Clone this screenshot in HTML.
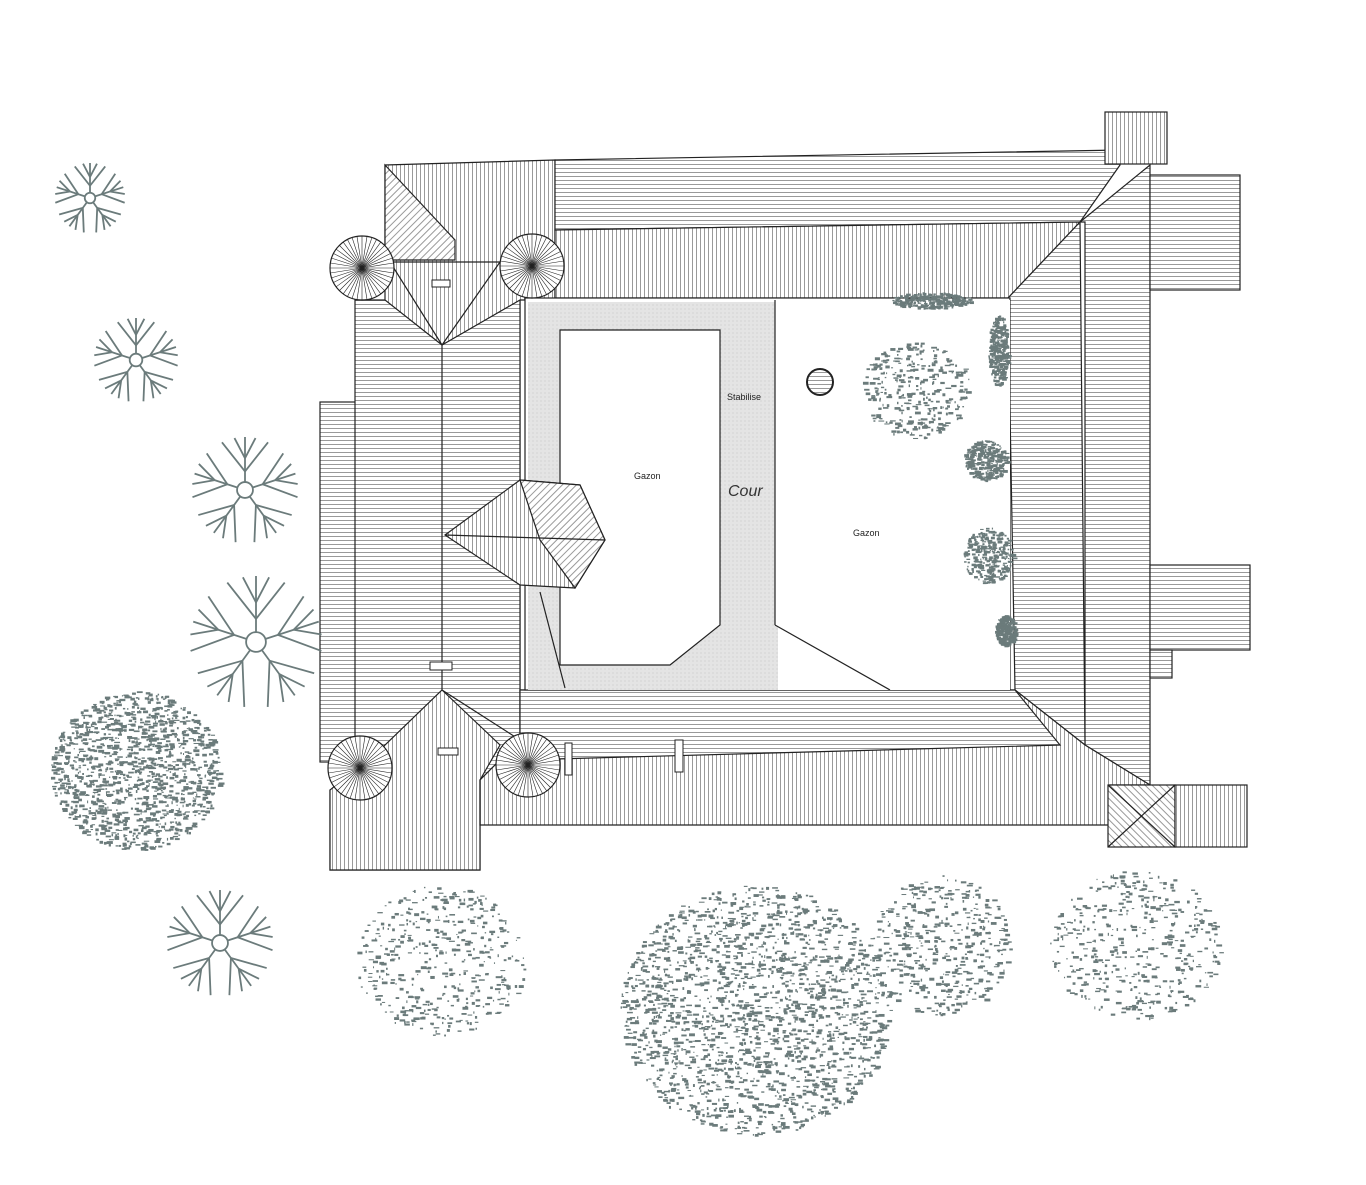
<!DOCTYPE html>
<html><head><meta charset="utf-8">
<style>html,body{margin:0;padding:0;background:#fff;}svg{display:block}</style>
</head><body>
<svg id="s" width="1366" height="1185" viewBox="0 0 1366 1185" xmlns="http://www.w3.org/2000/svg" font-family="Liberation Sans, sans-serif">
<defs>
<pattern id="h" width="6" height="4" patternUnits="userSpaceOnUse"><rect width="6" height="4" fill="#fff"/><line x1="0" y1="0.5" x2="6" y2="0.5" stroke="#555" stroke-width="0.6"/></pattern>
<pattern id="v" width="4" height="6" patternUnits="userSpaceOnUse"><rect width="4" height="6" fill="#fff"/><line x1="0.5" y1="0" x2="0.5" y2="6" stroke="#555" stroke-width="0.6"/></pattern>
<pattern id="d1" width="5" height="5" patternUnits="userSpaceOnUse" patternTransform="rotate(45)"><rect width="5" height="5" fill="#fff"/><line x1="0" y1="0.5" x2="5" y2="0.5" stroke="#555" stroke-width="0.6"/></pattern>
<pattern id="d2" width="5" height="5" patternUnits="userSpaceOnUse" patternTransform="rotate(-45)"><rect width="5" height="5" fill="#fff"/><line x1="0" y1="0.5" x2="5" y2="0.5" stroke="#555" stroke-width="0.6"/></pattern>
<pattern id="pave" width="4" height="4" patternUnits="userSpaceOnUse"><rect width="4" height="4" fill="#e4e4e4"/><circle cx="1" cy="1" r="0.5" fill="#bbb"/></pattern>
</defs>
<g stroke="#222" stroke-width="1.2">
<rect x="320" y="402" width="40" height="360" fill="url(#h)"/>
<polygon points="355,300 520,300 520,740 480,780 480,870 330,870 330,790 355,780" fill="url(#h)"/>
<polygon points="442,345 520,265 520,740 442,690" fill="url(#h)"/>
<polygon points="385,165 555,160 555,300 520,300 442,345 385,300" fill="url(#v)"/>
<polygon points="385,165 455,240 455,260 385,260" fill="url(#d2)"/>
<polygon points="390,262 500,262 442,345" fill="url(#v)"/>
<polygon points="442,690 500,745 480,780 480,870 330,870 330,790 385,745" fill="url(#v)"/>
<polygon points="555,160 1120,150 1120,165 1080,222 555,230" fill="url(#h)"/>
<polygon points="555,230 1080,222 1008,298 555,298" fill="url(#v)"/>
<polygon points="1080,222 1150,165 1150,785 1085,745 1085,222" fill="url(#h)"/>
<polygon points="1008,298 1080,222 1085,745 1015,690" fill="url(#h)"/>
<rect x="1150" y="175" width="90" height="115" fill="url(#h)"/>
<rect x="1150" y="565" width="100" height="85" fill="url(#h)"/>
<rect x="1150" y="650" width="22" height="28" fill="url(#h)"/>
<polygon points="520,690 1015,690 1085,745 1150,785 1110,785 1110,825 480,825 480,780 520,740" fill="url(#v)"/>
<polygon points="520,690 1015,690 1060,745 520,760" fill="url(#h)"/>
<rect x="1105" y="112" width="62" height="52" fill="url(#v)"/>
<rect x="1108" y="785" width="67" height="62" fill="url(#d1)"/>
<line x1="1108" y1="785" x2="1175" y2="847"/><line x1="1175" y1="785" x2="1108" y2="847"/>
<rect x="1175" y="785" width="72" height="62" fill="url(#v)"/>
<rect x="525" y="298" width="485" height="392" fill="#fff"/>
<polygon points="528,302 775,302 775,625 890,690 528,690" fill="url(#pave)" stroke="none"/>
<polygon points="560,330 720,330 720,625 670,665 560,665" fill="#fff"/>
<rect x="778" y="300" width="232" height="390" fill="#fff" stroke="none"/>
<line x1="775" y1="300" x2="775" y2="625"/><line x1="775" y1="625" x2="890" y2="690"/>
<polygon points="445,535 520,480 580,485 605,540 575,588 520,585" fill="url(#v)"/>
<polygon points="520,480 580,485 605,540 575,588 540,540" fill="url(#d2)"/>
<line x1="445" y1="535" x2="605" y2="540"/>
<line x1="540" y1="592" x2="565" y2="688"/>
</g>
<g stroke="#222" fill="#fff" stroke-width="1.2" id="tur"></g>
<circle cx="820" cy="382" r="13" fill="url(#h)" stroke="#222" stroke-width="2"/>
<rect x="432" y="280" width="18" height="7" fill="#fff" stroke="#222"/>
<rect x="430" y="662" width="22" height="8" fill="#fff" stroke="#222"/>
<rect x="438" y="748" width="20" height="7" fill="#fff" stroke="#222"/>
<rect x="565" y="743" width="7" height="32" fill="#fff" stroke="#222"/>
<rect x="675" y="740" width="8" height="32" fill="#fff" stroke="#222"/>
<text x="634" y="479" font-size="9" fill="#222">Gazon</text>
<text x="853" y="536" font-size="9" fill="#222">Gazon</text>
<text x="727" y="400" font-size="9" fill="#222">Stabilise</text>
<text x="728" y="496" font-size="16" font-style="italic" fill="#333">Cour</text>
<g id="veg"></g>
</svg>
<script>
var NS="http://www.w3.org/2000/svg";
function el(p,n,a){var e=document.createElementNS(NS,n);for(var k in a)e.setAttribute(k,a[k]);p.appendChild(e);return e;}
var tur=document.getElementById('tur');
[[362,268,32],[532,266,32],[360,768,32],[528,765,32]].forEach(function(t){
 el(tur,'circle',{cx:t[0],cy:t[1],r:t[2]});
 for(var i=0;i<40;i++){var a=i*Math.PI/20;el(tur,'line',{x1:t[0],y1:t[1],x2:t[0]+t[2]*Math.cos(a),y2:t[1]+t[2]*Math.sin(a),'stroke-width':0.6});}
});
var veg=document.getElementById('veg');
var seed=7;function r(){seed=(seed*16807)%2147483647;return seed/2147483647;}
var col="#6b7b7b";
[[90,198,35],[136,360,42],[245,490,53],[256,642,66],[220,943,53]].forEach(function(t){
 var g=el(veg,'g',{stroke:col,'stroke-width':1.8,fill:'none'});
 for(var i=0;i<5;i++){var a=i*2*Math.PI/5-Math.PI/2;
  var ex=t[0]+t[2]*Math.cos(a),ey=t[1]+t[2]*Math.sin(a);
  el(g,'line',{x1:t[0],y1:t[1],x2:ex,y2:ey});
  for(var j=-1;j<=1;j+=2){
   el(g,'line',{x1:t[0]+t[2]*0.35*Math.cos(a),y1:t[1]+t[2]*0.35*Math.sin(a),x2:t[0]+t[2]*Math.cos(a+j*0.45),y2:t[1]+t[2]*Math.sin(a+j*0.45)});
   el(g,'line',{x1:t[0]+t[2]*0.6*Math.cos(a),y1:t[1]+t[2]*0.6*Math.sin(a),x2:t[0]+t[2]*Math.cos(a+j*0.2),y2:t[1]+t[2]*Math.sin(a+j*0.2)});
  }
 }
 el(g,'circle',{cx:t[0],cy:t[1],r:t[2]*0.15,fill:'#fff'});
});
function blob(cx,cy,rx,ry,n,sz){for(var i=0;i<n;i++){var a=r()*6.283,d=Math.sqrt(r());
 el(veg,'rect',{x:cx+rx*d*Math.cos(a),y:cy+ry*d*Math.sin(a),width:1+r()*sz,height:1+r()*2,fill:col});}}
blob(135,770,85,80,1300,5);blob(440,960,85,75,450,5);blob(755,1010,135,125,2000,5);
blob(940,945,70,70,450,5);blob(1135,945,85,75,450,5);blob(915,390,55,48,320,5);
[[930,300,40,8],[998,350,10,35],[985,460,22,20],[988,555,25,28],[1005,630,10,15]].forEach(function(b){blob(b[0],b[1],b[2],b[3],300,4);});
</script>
</body></html>
